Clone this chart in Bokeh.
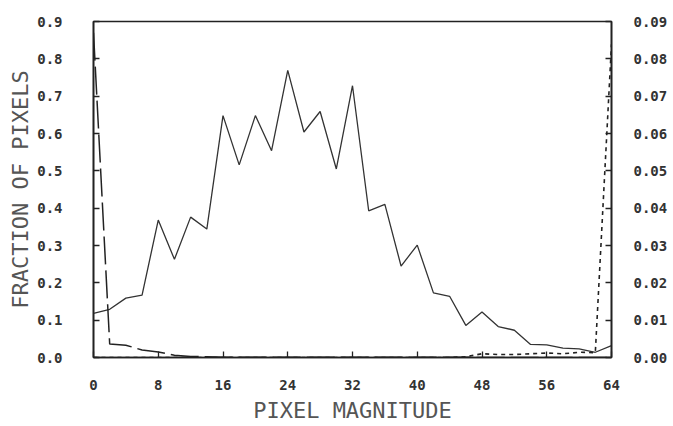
from bokeh.plotting import figure
from bokeh.models import Range1d, LinearAxis, FixedTicker, PrintfTickFormatter
from bokeh.embed import file_html
from bokeh.resources import INLINE

# ---- data ----
magnitude = [0, 2, 4, 6, 8, 10, 12, 14, 16, 18, 20, 22, 24, 26, 28, 30, 32,
             34, 36, 38, 40, 42, 44, 46, 48, 50, 52, 54, 56, 58, 60, 62, 64]
solid_frac = [0.118, 0.129, 0.159, 0.167, 0.368, 0.263, 0.376, 0.344, 0.648,
              0.516, 0.648, 0.554, 0.769, 0.604, 0.659, 0.505, 0.728, 0.393,
              0.410, 0.245, 0.301, 0.173, 0.164, 0.086, 0.122, 0.083, 0.073,
              0.035, 0.034, 0.025, 0.023, 0.014, 0.032]
dashed_frac = [0.870, 0.036, 0.033, 0.020, 0.015, 0.006, 0.003, 0.002, 0.001,
               0.001, 0.001, 0.001, 0.001, 0.001, 0.001, 0.001, 0.001, 0.001,
               0.001, 0.001, 0.001, 0.001, 0.001, 0.001, 0.000, 0.000, 0.000,
               0.000, 0.000, 0.000, 0.000, 0.000, 0.000]
dotted_frac = [0.0000, 0.0000, 0.0000, 0.0000, 0.0000, 0.0000, 0.0000, 0.0000,
               0.0000, 0.0000, 0.0000, 0.0000, 0.0000, 0.0000, 0.0000, 0.0000,
               0.0000, 0.0000, 0.0000, 0.0000, 0.0000, 0.0000, 0.0000, 0.0002,
               0.0010, 0.0008, 0.0008, 0.0010, 0.0012, 0.0010, 0.0014, 0.0013,
               0.0839]
x_ticks = [0, 8, 16, 24, 32, 40, 48, 56, 64]
left_ticks = [0.0, 0.1, 0.2, 0.3, 0.4, 0.5, 0.6, 0.7, 0.8, 0.9]
right_ticks = [0.00, 0.01, 0.02, 0.03, 0.04, 0.05, 0.06, 0.07, 0.08, 0.09]

FONT = "DejaVu Sans Mono"
INK = "#222222"

p = figure(width=673, height=426, output_backend="svg", toolbar_location=None,
           x_range=Range1d(0, 64), y_range=Range1d(0, 0.9),
           min_border_left=93, min_border_right=62,
           min_border_top=21, min_border_bottom=69)
p.extra_y_ranges = {"right": Range1d(0, 0.09)}
p.grid.visible = False
p.outline_line_color = INK
p.outline_line_width = 1.6
p.background_fill_color = "white"
p.border_fill_color = "white"

p.line(magnitude, solid_frac, line_color="#333333", line_width=1.3)
p.line(magnitude, dashed_frac, line_color=INK, line_width=1.5, line_dash="28 6")
p.line(magnitude, dotted_frac, line_color=INK, line_width=1.6, line_dash="4 4",
       y_range_name="right")

def style(ax, standoff):
    ax.axis_line_color = INK
    ax.axis_line_width = 1.6
    ax.major_tick_in = 6
    ax.major_tick_out = 0
    ax.major_tick_line_color = INK
    ax.major_tick_line_width = 1.3
    ax.minor_tick_line_color = None
    ax.major_label_text_font = FONT
    ax.major_label_text_font_size = "14px"
    ax.major_label_text_font_style = "bold"
    ax.major_label_text_color = "#333333"
    ax.major_label_standoff = standoff
    ax.axis_label_text_font = FONT
    ax.axis_label_text_font_size = "22px"
    ax.axis_label_text_font_style = "normal"
    ax.axis_label_text_color = "#555555"

xa = p.xaxis[0]
xa.ticker = FixedTicker(ticks=x_ticks)
xa.axis_label = "PIXEL MAGNITUDE"
style(xa, 22)
xa.axis_label_standoff = 5

ya = p.yaxis[0]
ya.ticker = FixedTicker(ticks=left_ticks)
ya.formatter = PrintfTickFormatter(format="%.1f")
ya.axis_label = "FRACTION OF PIXELS"
style(ya, 31)
ya.axis_label_standoff = 1

ra = LinearAxis(y_range_name="right", ticker=FixedTicker(ticks=right_ticks),
                formatter=PrintfTickFormatter(format="%.2f"))
style(ra, 22)
p.add_layout(ra, "right")

open("out.html", "w").write(file_html(p, INLINE))
